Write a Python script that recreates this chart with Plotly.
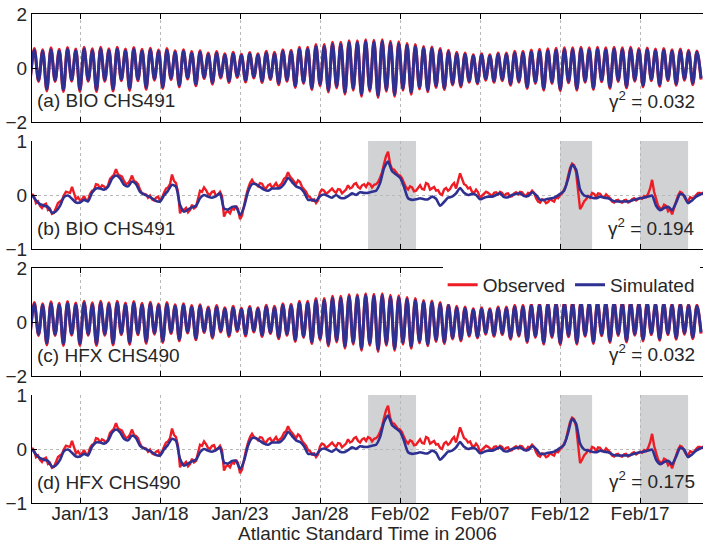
import pandas as pd
import plotly.graph_objects as go
from plotly.subplots import make_subplots

# ---------------- data ----------------
base = "2006-01-10"

# Tidal elevation (m): high / low water values per M2 cycle
tide_high_sim = [0.66, 0.62, 0.68, 0.63, 0.69, 0.64, 0.70, 0.64, 0.70, 0.65,
                 0.70, 0.64, 0.69, 0.63, 0.67, 0.61, 0.65, 0.58, 0.62, 0.55,
                 0.58, 0.50, 0.55, 0.47, 0.52, 0.46, 0.52, 0.48, 0.56, 0.52,
                 0.62, 0.60, 0.70, 0.70, 0.80, 0.80, 0.88, 0.88, 0.94, 0.94,
                 0.98, 0.96, 0.98, 0.92, 0.90, 0.84, 0.80, 0.74, 0.72, 0.66,
                 0.60, 0.52, 0.50, 0.44, 0.48, 0.44, 0.50, 0.50, 0.56, 0.56,
                 0.60, 0.62, 0.64, 0.66, 0.68, 0.68, 0.70, 0.68, 0.70, 0.68,
                 0.70, 0.68, 0.70, 0.66, 0.68, 0.64, 0.66, 0.62, 0.64, 0.60, 0.58]
tide_low_sim = [-0.40,
                -0.45, -0.78, -0.45, -0.80, -0.44, -0.80, -0.44, -0.80, -0.44, -0.78,
                -0.42, -0.76, -0.42, -0.72, -0.40, -0.70, -0.38, -0.64, -0.36, -0.60,
                -0.34, -0.54, -0.32, -0.48, -0.30, -0.46, -0.32, -0.48, -0.38, -0.56,
                -0.44, -0.66, -0.52, -0.74, -0.60, -0.82, -0.68, -0.90, -0.76, -0.98,
                -0.80, -1.02, -0.80, -0.98, -0.76, -0.90, -0.72, -0.82, -0.66, -0.74,
                -0.58, -0.64, -0.48, -0.54, -0.40, -0.48, -0.42, -0.58, -0.48, -0.70,
                -0.52, -0.76, -0.52, -0.78, -0.50, -0.76, -0.48, -0.74, -0.46, -0.70,
                -0.45, -0.68, -0.44, -0.64, -0.42, -0.62, -0.42, -0.58, -0.40, -0.56, -0.38]
tide_high_obs = [0.72, 0.68, 0.75, 0.69, 0.76, 0.70, 0.77, 0.71, 0.77, 0.71,
                 0.77, 0.70, 0.76, 0.69, 0.73, 0.67, 0.72, 0.64, 0.68, 0.61,
                 0.64, 0.56, 0.61, 0.53, 0.58, 0.51, 0.57, 0.53, 0.62, 0.58,
                 0.68, 0.66, 0.77, 0.77, 0.87, 0.87, 0.95, 0.95, 1.01, 1.01,
                 1.05, 1.03, 1.05, 0.99, 0.97, 0.91, 0.87, 0.80, 0.78, 0.72,
                 0.66, 0.58, 0.56, 0.49, 0.53, 0.49, 0.56, 0.56, 0.62, 0.62,
                 0.67, 0.69, 0.71, 0.73, 0.75, 0.75, 0.77, 0.75, 0.77, 0.75,
                 0.77, 0.75, 0.77, 0.72, 0.74, 0.70, 0.72, 0.68, 0.70, 0.66, 0.63]
tide_low_obs = [-0.45,
                -0.50, -0.85, -0.50, -0.87, -0.49, -0.87, -0.49, -0.87, -0.49, -0.85,
                -0.47, -0.83, -0.47, -0.79, -0.45, -0.76, -0.43, -0.70, -0.41, -0.66,
                -0.39, -0.60, -0.37, -0.54, -0.35, -0.52, -0.37, -0.54, -0.43, -0.62,
                -0.49, -0.72, -0.57, -0.80, -0.66, -0.89, -0.74, -0.97, -0.82, -1.05,
                -0.86, -1.09, -0.86, -1.05, -0.82, -0.97, -0.78, -0.88, -0.72, -0.80,
                -0.63, -0.70, -0.53, -0.59, -0.45, -0.53, -0.47, -0.64, -0.53, -0.76,
                -0.57, -0.82, -0.57, -0.84, -0.55, -0.82, -0.53, -0.80, -0.51, -0.76,
                -0.50, -0.74, -0.49, -0.70, -0.47, -0.68, -0.47, -0.64, -0.45, -0.62, -0.43]

# Residual (non-tidal) elevation, 6-hourly from Jan 10 00:00
resid_sim = [0.00, -0.10, -0.17, -0.20, -0.22, -0.33, -0.30, -0.20,
             -0.04, -0.01, -0.07, -0.14, -0.14, -0.09, -0.12, 0.04,
             0.12, 0.12, 0.10, 0.15, 0.30, 0.36, 0.31, 0.19,
             0.16, 0.25, 0.20, 0.06, 0.01, -0.02, -0.06, -0.11,
             -0.12, -0.01, 0.08, 0.19, 0.15, -0.18, -0.31, -0.27,
             -0.23, -0.20, -0.06, 0.00, -0.03, -0.05, -0.02, 0.03,
             -0.25, -0.27, -0.22, -0.22, -0.37, -0.22, 0.06, 0.20,
             0.20, 0.15, 0.10, 0.08, 0.12, 0.12, 0.13, 0.20,
             0.32, 0.24, 0.16, 0.13, 0.05, -0.09, -0.09, -0.11,
             -0.02, 0.01, -0.02, -0.05, 0.00, -0.05, -0.06, -0.02,
             0.03, 0.00, 0.05, 0.04, 0.04, 0.06, 0.08, 0.22,
             0.50, 0.62, 0.44, 0.38, 0.32, 0.15, -0.06, -0.09,
             -0.08, -0.06, -0.08, -0.08, -0.03, -0.07, -0.20, -0.13,
             -0.05, -0.03, 0.03, 0.13, 0.04, 0.00, 0.02, 0.00,
             -0.08, -0.05, -0.03, -0.03, 0.00, 0.03, -0.04, -0.04,
             0.00, 0.02, 0.03, -0.02, -0.02, 0.05, 0.00, -0.09,
             -0.09, -0.07, -0.06, -0.03, 0.02, 0.08, 0.30, 0.56,
             0.47, 0.10, -0.01, -0.03, -0.05, -0.06, -0.03, -0.05,
             -0.06, -0.10, -0.12, -0.12, -0.12, -0.12, -0.10, -0.08,
             -0.06, -0.05, -0.03, -0.01, -0.20, -0.28, -0.24, -0.22,
             -0.28, -0.14, 0.02, -0.01, -0.15, -0.10, -0.03, 0.01, 0.04]
# Observed residual at 00/06/12/18 h ...
resid_obs = [0.02, -0.15, -0.20, -0.18, -0.28, -0.35, -0.24, -0.12,
             0.00, 0.05, 0.15, -0.08, -0.10, -0.02, -0.10, 0.08,
             0.20, 0.12, 0.16, 0.18, 0.35, 0.48, 0.36, 0.26,
             0.22, 0.36, 0.24, 0.10, 0.02, -0.05, -0.08, -0.05,
             -0.10, 0.04, 0.14, 0.38, 0.22, -0.34, -0.28, -0.32,
             -0.18, -0.22, 0.08, 0.14, 0.02, 0.06, -0.02, 0.06,
             -0.40, -0.30, -0.25, -0.20, -0.45, -0.18, 0.12, 0.28,
             0.20, 0.22, 0.14, 0.18, 0.14, 0.22, 0.18, 0.30,
             0.42, 0.30, 0.20, 0.24, 0.10, -0.02, -0.10, -0.15,
             0.05, 0.08, 0.05, 0.12, 0.04, 0.10, 0.06, 0.18,
             0.14, 0.22, 0.12, 0.20, 0.22, 0.14, 0.20, 0.32,
             0.58, 0.80, 0.48, 0.42, 0.36, 0.22, 0.10, 0.14,
             0.08, 0.18, 0.10, 0.20, 0.12, 0.08, 0.02, 0.10,
             0.08, 0.18, 0.12, 0.40, 0.20, 0.12, 0.06, 0.10,
             -0.06, 0.02, 0.04, -0.02, 0.05, 0.06, -0.02, 0.03,
             -0.02, 0.05, 0.06, 0.00, 0.04, 0.08, -0.06, -0.14,
             -0.10, -0.13, -0.10, -0.04, 0.00, 0.10, 0.35, 0.58,
             0.42, -0.26, -0.12, -0.02, 0.04, -0.04, 0.02, -0.05,
             -0.02, -0.12, -0.10, -0.13, -0.10, -0.14, -0.08, -0.10,
             -0.05, -0.02, 0.02, 0.28, -0.10, -0.24, -0.18, -0.30,
             -0.36, -0.12, 0.06, -0.04, -0.12, -0.06, 0.00, 0.04, 0.06]
# ... and at 03/09/15/21 h (the short-period jitter of the observed record)
resid_obs_mid = [-0.02, -0.12, -0.24, -0.16, -0.26, -0.33, -0.15, -0.09,
                 0.06, 0.04, 0.02, -0.04, -0.08, -0.09, 0.02, 0.09,
                 0.19, 0.18, 0.12, 0.30, 0.38, 0.38, 0.34, 0.20,
                 0.27, 0.26, 0.20, 0.03, 0.01, -0.01, -0.10, -0.03,
                 -0.05, 0.12, 0.20, 0.26, 0.05, -0.26, -0.24, -0.28,
                 -0.25, -0.06, 0.06, 0.09, 0.00, 0.07, 0.01, -0.02,
                 -0.32, -0.34, -0.27, -0.26, -0.38, -0.02, 0.22, 0.22,
                 0.16, 0.21, 0.12, 0.20, 0.17, 0.15, 0.22, 0.33,
                 0.34, 0.26, 0.27, 0.15, 0.06, -0.04, -0.08, -0.10,
                 0.10, 0.02, 0.09, 0.07, 0.11, 0.03, 0.10, 0.12,
                 0.20, 0.15, 0.18, 0.15, 0.20, 0.19, 0.24, 0.42,
                 0.72, 0.58, 0.47, 0.37, 0.31, 0.14, 0.16, 0.07,
                 0.14, 0.11, 0.22, 0.10, 0.15, 0.09, 0.00, 0.13,
                 0.11, 0.22, 0.26, 0.30, 0.18, 0.14, 0.04, 0.05,
                 -0.01, 0.06, 0.00, 0.04, 0.01, 0.04, 0.02, -0.03,
                 0.03, 0.01, 0.05, -0.02, 0.03, 0.04, -0.12, -0.08,
                 -0.15, -0.08, -0.12, -0.06, 0.03, 0.18, 0.50, 0.55,
                 0.12, -0.20, -0.08, -0.05, 0.02, 0.03, -0.03, 0.01,
                 -0.06, -0.14, -0.09, -0.14, -0.09, -0.12, -0.06, -0.08,
                 -0.07, -0.04, 0.12, 0.06, -0.20, -0.26, -0.20, -0.26,
                 -0.22, -0.01, 0.04, -0.10, -0.04, -0.05, 0.04, 0.02]

event_starts = ["2006-01-31", "2006-02-12", "2006-02-17"]
event_ends = ["2006-02-03", "2006-02-14", "2006-02-20"]

panel_labels = ["(a) BIO CHS491", "(b) BIO CHS491", "(c) HFX CHS490", "(d) HFX CHS490"]
gamma_values = ["0.032", "0.194", "0.032", "0.175"]
tick_dates = ["2006-01-13", "2006-01-18", "2006-01-23", "2006-01-28",
              "2006-02-02", "2006-02-07", "2006-02-12", "2006-02-17"]
tick_text = ["Jan/13", "Jan/18", "Jan/23", "Jan/28", "Feb/02", "Feb/07", "Feb/12", "Feb/17"]
x_title = "Atlantic Standard Time in 2006"

# ---------------- build ----------------
def interleave(a, b):
    out = []
    for j in range(len(b)):
        out += [a[j], b[j]]
    out += a[len(b):]
    return out

tide_obs = interleave(tide_low_obs, tide_high_obs)
tide_sim = interleave(tide_low_sim, tide_high_sim)
tide_times = pd.date_range(pd.Timestamp(base) - pd.Timedelta(hours=2.62),
                           periods=len(tide_obs), freq=pd.Timedelta(hours=6.21))
resid_times = pd.date_range(base, periods=len(resid_sim), freq="6h")
obs_series = interleave(resid_obs, resid_obs_mid)
obs_times = pd.date_range(base, periods=len(obs_series), freq="3h")

RED = "#ee1c25"
BLUE = "#2e3192"
TXT = "#262626"
FONT = "Liberation Sans, Arial, sans-serif"

fig = make_subplots(rows=4, cols=1, shared_xaxes=False)

for r in (1, 3):
    fig.add_trace(go.Scatter(x=tide_times, y=tide_obs, mode="lines", name="Observed",
                             line=dict(color=RED, width=3, shape="spline"),
                             showlegend=(r == 3)), row=r, col=1)
    fig.add_trace(go.Scatter(x=tide_times, y=tide_sim, mode="lines", name="Simulated",
                             line=dict(color=BLUE, width=3, shape="spline"),
                             showlegend=(r == 3)), row=r, col=1)
for r in (2, 4):
    fig.add_trace(go.Scatter(x=obs_times, y=obs_series, mode="lines", name="Observed",
                             line=dict(color=RED, width=2.4), showlegend=False), row=r, col=1)
    fig.add_trace(go.Scatter(x=resid_times, y=resid_sim, mode="lines", name="Simulated",
                             line=dict(color=BLUE, width=2.6, shape="spline", smoothing=0.6),
                             showlegend=False), row=r, col=1)

# panel geometry (pixels -> paper)
H_TOP, H_BOT = 14, 503
def py(p):
    return (H_BOT - p) / (H_BOT - H_TOP)
def px(p):
    return (p - 32) / 671
panels_px = [(14, 122), (141, 249), (268, 376), (395, 503)]

for i, (top, bot) in enumerate(panels_px, start=1):
    tidal = i in (1, 3)
    fig.update_layout(**{
        f"xaxis{i}": dict(
            type="date", range=["2006-01-10", "2006-02-20 22:20"],
            tickvals=tick_dates, ticktext=tick_text, showticklabels=(i == 4),
            ticks="inside", ticklen=5, tickcolor="black",
            showgrid=True, gridcolor="#b8b8b8", griddash="dot", gridwidth=1,
            showline=True, linecolor="black", linewidth=1,
            mirror=("ticks" if tidal else False), zeroline=False,
            tickfont=dict(size=19, color=TXT, family=FONT),
        ),
        f"yaxis{i}": dict(
            domain=[py(bot), py(top)],
            range=[-2, 2] if tidal else [-1, 1],
            tickvals=[-2, 0, 2] if tidal else [-1, 0, 1],
            ticks="inside", ticklen=5, tickcolor="black",
            showgrid=True, gridcolor="#b8b8b8", griddash="dot", gridwidth=1,
            showline=True, linecolor="black", linewidth=1, zeroline=False,
            tickfont=dict(size=19, color=TXT, family=FONT),
        ),
    })
fig.update_layout(xaxis4=dict(ticklabelstandoff=-7))

shapes = []
for r in (2, 4):
    for s, e in zip(event_starts, event_ends):
        shapes.append(dict(type="rect", xref=f"x{r}", yref=f"y{r} domain",
                           x0=s, x1=e, y0=0, y1=1, fillcolor="#d1d2d4",
                           line=dict(width=0), layer="below"))

annotations = []
label_y = [101, 228, 355, 482]
gamma_y = [100, 227, 353, 480]
for i in range(4):
    annotations.append(dict(text=panel_labels[i], xref="paper", yref="paper",
                            x=px(35), y=py(label_y[i]), xanchor="left",
                            yanchor="middle", showarrow=False,
                            font=dict(size=19, color=TXT, family=FONT)))
    annotations.append(dict(text=f"γ<sup>2</sup> = {gamma_values[i]}",
                            xref="paper", yref="paper",
                            x=px(697), y=py(gamma_y[i]), xanchor="right",
                            yanchor="middle", showarrow=False,
                            font=dict(size=19, color=TXT, family=FONT)))
annotations.append(dict(text=x_title, xref="paper", yref="paper",
                        x=px(367), y=py(533), xanchor="center", yanchor="middle",
                        showarrow=False, font=dict(size=19, color=TXT, family=FONT)))

fig.update_layout(
    width=703, height=543,
    margin=dict(l=32, r=0, t=14, b=40, autoexpand=False),
    paper_bgcolor="white", plot_bgcolor="white",
    shapes=shapes, annotations=annotations,
    legend=dict(orientation="h", x=0.995, xanchor="right", y=py(266), yanchor="top",
                bgcolor="white", borderwidth=0,
                font=dict(size=19, color=TXT, family=FONT)),
    font=dict(family=FONT, color=TXT),
)

fig.write_html("out.html", config={"displayModeBar": False},
               post_script="document.body.style.margin='0';document.body.style.padding='0';")
